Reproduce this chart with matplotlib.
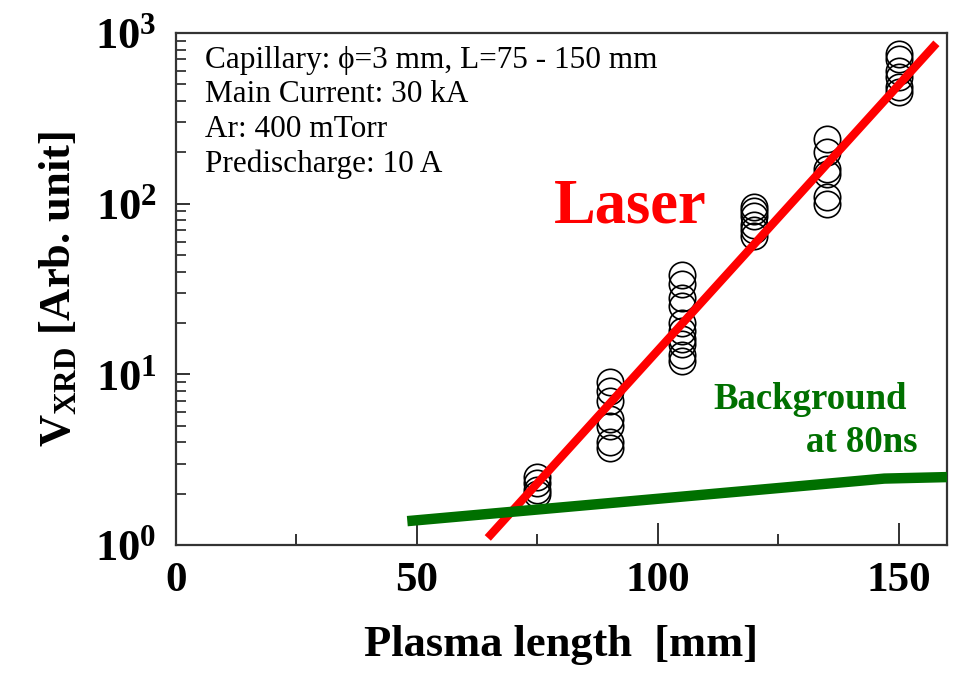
import matplotlib
matplotlib.use("Agg")
import matplotlib.pyplot as plt
from matplotlib.ticker import FixedLocator, LogLocator, NullFormatter, FuncFormatter
import numpy as np

plt.rcParams['font.family'] = ['Liberation Serif', 'DejaVu Serif']
plt.rcParams['mathtext.fontset'] = 'custom'
plt.rcParams['mathtext.rm'] = 'Liberation Serif:bold'
plt.rcParams['mathtext.bf'] = 'Liberation Serif:bold'
plt.rcParams['mathtext.it'] = 'Liberation Serif:bold:italic'

# ---- data ----
len_75 = [2.0, 2.1, 2.3, 2.5]
len_90 = [9.0, 8.0, 7.0, 5.5, 5.0, 4.0, 3.7]
len_105 = [38, 34, 28, 25, 20, 18, 16, 15, 13, 12]
len_120 = [95, 90, 85, 75, 70, 65]
len_135 = [240, 200, 160, 150, 110, 100]
len_150 = [750, 700, 600, 550, 480, 450]
plasma_lengths = [75, 90, 105, 120, 135, 150]

laser_fit_x = [64.7, 157.8]
laser_fit_y = [1.1, 870]

bg_x = [48, 147, 160]
bg_y = [1.38, 2.45, 2.5]

x_ticks = [0, 50, 100, 150]
x_minor = [25, 75, 125]

info_lines = ["Capillary: \u03d5=3 mm, L=75 - 150 mm",
              "Main Current: 30 kA",
              "Ar: 400 mTorr",
              "Predischarge: 10 A"]

# ---- figure ----
fig = plt.figure(figsize=(9.54, 6.77), dpi=100)
ax = fig.add_axes([176/954, (677-545)/677, (947-176)/954, (545-33)/677])

groups = [len_75, len_90, len_105, len_120, len_135, len_150]
for xv, vals in zip(plasma_lengths, groups):
    ax.plot([xv]*len(vals), vals, linestyle='none', marker='o', ms=19,
            mfc='none', mec='black', mew=1.2, zorder=2)

ax.plot(laser_fit_x, laser_fit_y, color='#ff0000', lw=6, solid_capstyle='butt', zorder=3)
ax.plot(bg_x, bg_y, color='#007000', lw=7.5, solid_capstyle='butt', zorder=3)

ax.set_yscale('log')
ax.set_xlim(0, 160)
ax.set_ylim(1, 1000)

ax.xaxis.set_major_locator(FixedLocator(x_ticks))
ax.xaxis.set_minor_locator(FixedLocator(x_minor))
ax.yaxis.set_major_locator(FixedLocator([1, 10, 100, 1000]))
ax.yaxis.set_minor_locator(LogLocator(base=10, subs=np.arange(2, 10)))
ax.yaxis.set_minor_formatter(NullFormatter())
ax.yaxis.set_major_formatter(FuncFormatter(lambda v, p: r'$10^{%d}$' % int(round(np.log10(v)))))

ax.tick_params(axis='x', which='major', direction='in', length=16, width=1.3,
               labelsize=31, pad=12, top=False, color='#222222')
ax.tick_params(axis='x', which='minor', direction='in', length=8, width=1.3, top=False, color='#222222')
ax.tick_params(axis='y', which='major', direction='in', length=10, width=1.3,
               labelsize=32, pad=14, right=False, color='#222222')
ax.tick_params(axis='y', which='minor', direction='in', length=7, width=1.2, right=False, color='#222222')
for lab in ax.get_xticklabels():
    lab.set_fontweight('bold')

for s in ax.spines.values():
    s.set_linewidth(1.6)
    s.set_color('#333333')

ax.set_xlabel('Plasma length  [mm]', fontsize=32, fontweight='bold', labelpad=18)
ax.set_ylabel(r'V$_{\mathrm{XRD}}$ [Arb. unit]', fontsize=32, fontweight='bold', labelpad=12)

for i, t in enumerate(info_lines):
    ax.text(0.038, 0.947 - i*0.068, t, transform=ax.transAxes, fontsize=22.5,
            va='center', ha='left', color='black')

ax.text(0.49, 0.66, 'Laser', transform=ax.transAxes, fontsize=45, fontweight='bold',
        color='#ff0000', va='center', ha='left')
ax.text(0.697, 0.285, 'Background', transform=ax.transAxes, fontsize=26.5, fontweight='bold',
        color='#007000', va='center', ha='left')
ax.text(0.817, 0.2, 'at 80ns', transform=ax.transAxes, fontsize=26.5, fontweight='bold',
        color='#007000', va='center', ha='left')

fig.savefig('out.png', dpi=100)
